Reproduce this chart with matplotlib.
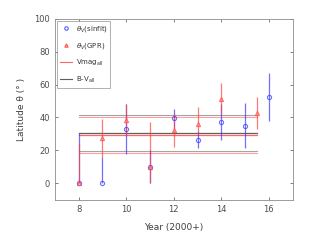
import matplotlib
matplotlib.use('Agg')
import matplotlib.pyplot as plt
from matplotlib.lines import Line2D
import numpy as np

# sinfit latitudes (blue)
yr_sin = [8, 9, 10, 11, 12, 13, 14, 15, 16]
lat_sin = [0, 0, 32.8, 10, 39.5, 26.5, 37.5, 35, 52.5]
lo_sin = [0, 0, 15.2, 10, 6, 5.2, 11.2, 13.5, 14.5]
hi_sin = [30.4, 16.2, 15.4, 10, 5.5, 5.5, 11, 14, 14.3]

# GPR latitudes (red)
yr_gpr = [8, 9, 10, 11, 12, 13, 14, 15.5]
lat_gpr = [0, 27.5, 38.5, 10, 32.5, 36, 51, 42.5]
lo_gpr = [0, 11.3, 9.5, 10, 10.2, 6, 9, 9.3]
hi_gpr = [24.3, 11.5, 9.7, 27.4, 10.2, 10.2, 10, 9.7]

# overall results: centre, lower, upper
vmag_all = [29.1, 18.3, 40.1]
bv_all = [30.4, 19.4, 41.3]
span = [8, 15.5]

fig, ax = plt.subplots(figsize=(3.23, 2.42), dpi=100)
fig.subplots_adjust(left=0.17, right=0.906, top=0.922, bottom=0.175)

blue = (0.2, 0.2, 1.0)
red = (1.0, 0.25, 0.25)
gray = (0.3, 0.3, 0.3)

ax.plot(span, [vmag_all[0]] * 2, color=red, lw=0.9, alpha=0.8)
ax.plot(span, [bv_all[0]] * 2, color=gray, lw=0.9, alpha=0.9)
for v in vmag_all[1:]:
    ax.plot(span, [v, v], color=red, lw=0.8, alpha=0.5)
for v in bv_all[1:]:
    ax.plot(span, [v, v], color=gray, lw=0.8, alpha=0.5)

ax.errorbar(yr_sin, lat_sin, yerr=[lo_sin, hi_sin], fmt='o', ms=3, mfc='none',
            mec=blue, mew=0.8, ecolor=blue, elinewidth=0.9, alpha=0.7)
ax.errorbar(yr_gpr, lat_gpr, yerr=[lo_gpr, hi_gpr], fmt='^', ms=3, mfc=(1, 0.6, 0.6),
            mec=red, mew=0.8, ecolor=red, elinewidth=0.9, alpha=0.7)

ax.set_xlim(7, 17)
ax.set_ylim(-10, 100)
ax.set_xticks([8, 10, 12, 14, 16])
ax.set_yticks([0, 20, 40, 60, 80, 100])
ax.tick_params(direction='in', length=2, width=0.5, labelsize=6, colors='0.3',
               top=True, right=True)
for s in ax.spines.values():
    s.set_color('0.55')
    s.set_linewidth(0.6)
ax.set_xlabel('Year (2000+)', fontsize=6.5, color='0.25', labelpad=7)
ax.set_ylabel('Latitude θ (° )', fontsize=6.5, color='0.25', labelpad=6)

handles = [
    Line2D([], [], ls='none', marker='o', ms=2.5, mfc='none', mec=blue, mew=0.8, alpha=0.8),
    Line2D([], [], ls='none', marker='^', ms=2.5, mfc=(1, 0.6, 0.6), mec=red, mew=0.8, alpha=0.8),
    Line2D([], [], color=red, lw=0.8, alpha=0.8),
    Line2D([], [], color=gray, lw=0.8, alpha=0.9),
]
labels = ['$\\theta_V$(sinfit)', '$\\theta_V$(GPR)', 'Vmag$_{\\rm all}$', 'B-V$_{\\rm all}$']
leg = ax.legend(handles, labels, loc='upper left', fontsize=5, frameon=True,
                fancybox=False, labelspacing=1.0, handlelength=1.8, handletextpad=0.5,
                borderpad=0.4, borderaxespad=0.3)
leg.get_frame().set_edgecolor('0.55')
leg.get_frame().set_linewidth(0.6)
for t in leg.get_texts():
    t.set_color('0.2')

plt.savefig('out.png', dpi=100)
